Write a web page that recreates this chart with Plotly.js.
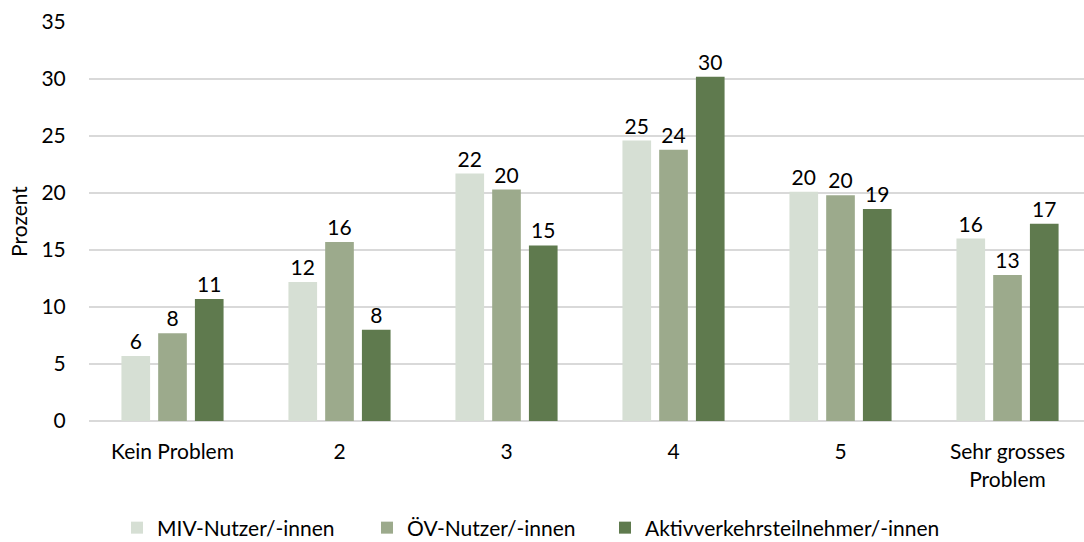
<!DOCTYPE html>
<html>
<head>
<meta charset="utf-8">
<script src="https://cdn.plot.ly/plotly-3.0.1.min.js"></script>
<style>
  html, body { margin: 0; padding: 0; background: white; }
  #chart { width: 1084px; height: 542px; }
</style>
</head>
<body>
<div id="chart"></div>
<script>
const kategorien = ['Kein Problem', '2', '3', '4', '5', 'Sehr grosses<br>Problem'];
const miv = [5.7, 12.2, 21.7, 24.6, 20.1, 16.0];
const oev = [7.7, 15.7, 20.3, 23.8, 19.8, 12.8];
const aktiv = [10.7, 8.0, 15.4, 30.2, 18.6, 17.3];

const serien = [
  { name: 'MIV-Nutzer/-innen', y: miv, color: '#d6dfd4', legende: 'legend', lx: 117 },
  { name: 'ÖV-Nutzer/-innen', y: oev, color: '#9caa8c', legende: 'legend2', lx: 367 },
  { name: 'Aktivverkehrsteilnehmer/-innen', y: aktiv, color: '#5f7a4e', legende: 'legend3', lx: 605 }
];

const schrift = { family: 'Lato, "Open Sans", sans-serif', size: 21, color: '#000000' };

const traces = serien.map(s => ({
  type: 'bar',
  name: s.name,
  x: kategorien,
  y: s.y,
  marker: { color: s.color },
  texttemplate: '%{y:.0f}',
  textposition: 'outside',
  cliponaxis: false,
  textfont: schrift,
  legend: s.legende,
  hoverinfo: 'skip'
}));

function legende(px) {
  return {
    orientation: 'h',
    xref: 'container',
    yref: 'container',
    x: px / 1084,
    xanchor: 'left',
    y: 14 / 542,
    yanchor: 'middle',
    font: schrift,
    itemwidth: 30,
    bgcolor: 'rgba(0,0,0,0)'
  };
}

const layout = {
  width: 1084,
  height: 542,
  margin: { l: 89, r: 0, t: 22, b: 121 },
  paper_bgcolor: 'white',
  plot_bgcolor: 'white',
  font: schrift,
  barmode: 'group',
  bargap: 0.34,
  bargroupgap: 0.22,
  showlegend: true,
  legend: legende(serien[0].lx),
  legend2: legende(serien[1].lx),
  legend3: legende(serien[2].lx),
  xaxis: {
    type: 'category',
    range: [-0.5, 5.458],
    showgrid: false,
    zeroline: false,
    showline: false,
    ticks: 'outside',
    ticklen: 12,
    tickcolor: 'rgba(0,0,0,0)',
    tickfont: schrift
  },
  yaxis: {
    range: [0, 35],
    dtick: 5,
    showgrid: true,
    gridcolor: '#d9d9d9',
    gridwidth: 1.5,
    zeroline: true,
    zerolinecolor: '#d9d9d9',
    zerolinewidth: 1.5,
    ticks: 'outside',
    ticklen: 18,
    tickcolor: 'rgba(0,0,0,0)',
    tickfont: schrift,
    title: { text: 'Prozent', font: schrift, standoff: 8 }
  }
};

Plotly.newPlot('chart', traces, layout, { displayModeBar: false, responsive: false });
</script>
</body>
</html>
